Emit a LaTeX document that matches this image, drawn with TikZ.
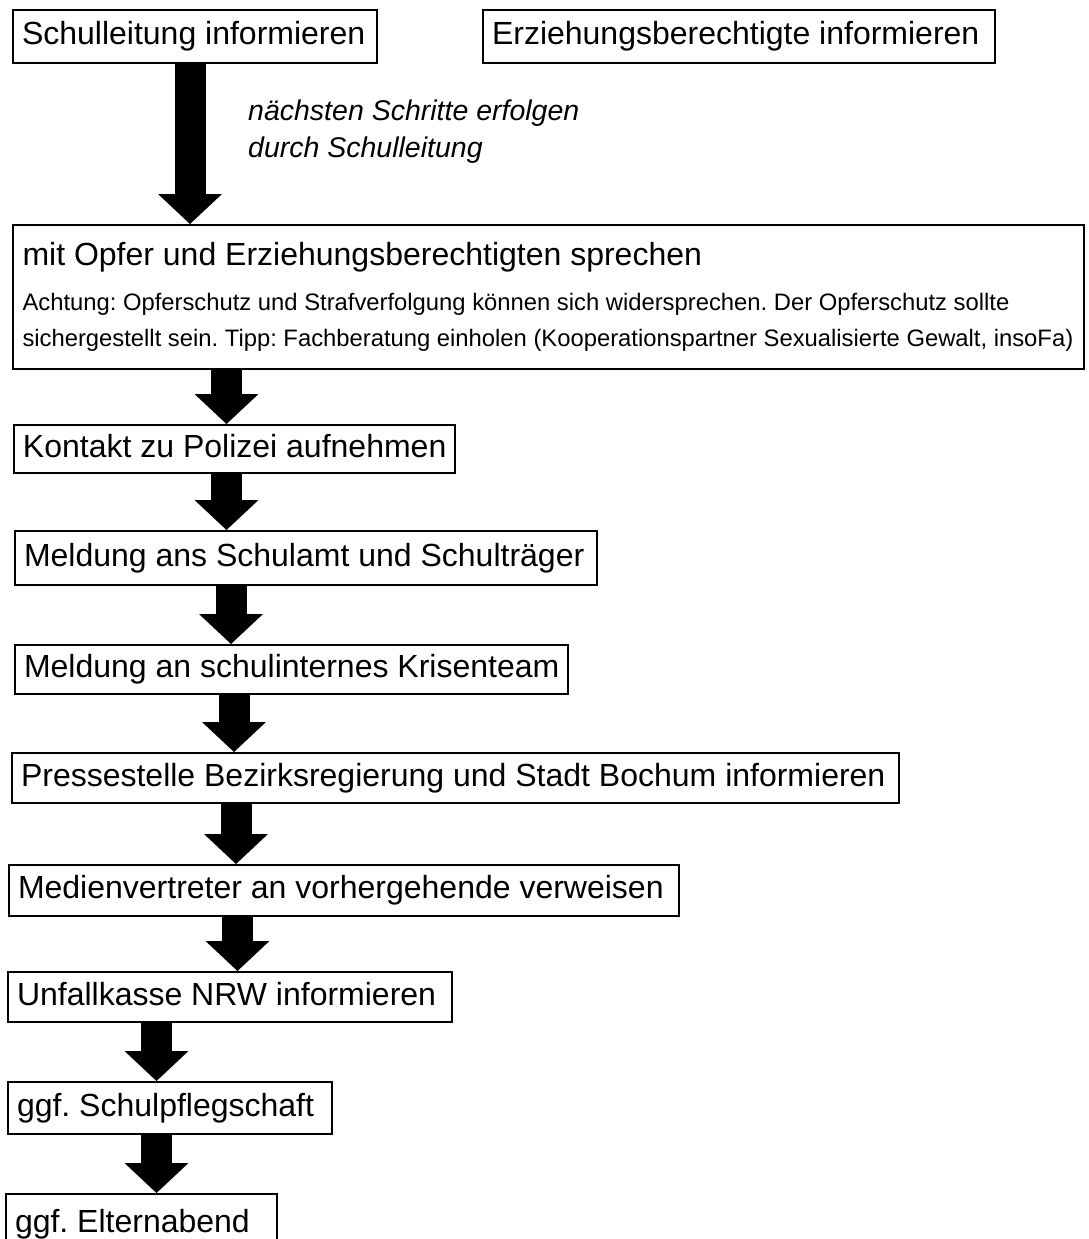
\documentclass[tikz,border=0pt]{standalone}
\usepackage{fontspec}
\setmainfont{Liberation Sans}
\usetikzlibrary{arrows.meta}
\frenchspacing
\hyphenpenalty=10000

\begin{document}
\begin{tikzpicture}[x=1pt,y=-1pt,
                kasten/.style={draw,rectangle,line width=2pt,anchor=north west,
                    inner xsep=9pt,inner ysep=0pt,minimum height=#1,align=flush left,
                    font=\fontsize{32}{38}\selectfont},
                kasten/.default=50pt,
                zeile/.style={kasten=#1,text height=23pt,text depth=7pt},
                zeile/.default=50pt,
                pfeil/.style={line width=31pt,-{Triangle[length=30pt,width=64pt,line width=0pt]}}]
                \useasboundingbox (0,0) rectangle (1089,1239);

                \node[zeile=53pt,text width=346pt] (schulleitung) at (12,9) {Schulleitung informieren};
                \node[zeile=53pt,text width=494pt] (eltern1) at (482,9) {Erziehungsberechtigte informieren};
                \node[anchor=west,inner sep=0pt,align=left,
                    font=\fontsize{28.5}{37}\selectfont\itshape] (hinweis) at (248,131.5)
                    {nächsten Schritte erfolgen\\durch Schulleitung};
                \node[kasten=144pt,text width=1052pt,inner xsep=9.5pt,
                    font=\fontsize{23.8}{36}\selectfont] (opfer) at (12,224)
                    {{\fontsize{32}{38}\selectfont mit Opfer und Erziehungsberechtigten sprechen}\\[9pt]
                     Achtung: Opferschutz und Strafverfolgung können sich widersprechen. Der Opferschutz sollte\\
                     sichergestellt sein. Tipp: Fachberatung einholen (Kooperationspartner Sexualisierte Gewalt, insoFa)};
                \node[zeile=48pt] (polizei) at (13,424) {Kontakt zu Polizei aufnehmen};
                \node[zeile=54pt,text width=564pt] (schulamt) at (14,530) {Meldung ans Schulamt und Schulträger};
                \node[zeile=49pt] (krisenteam) at (14,644) {Meldung an schulinternes Krisenteam};
                \node[zeile=50pt,text width=869pt] (presse) at (11,752) {Pressestelle Bezirksregierung und Stadt Bochum informieren};
                \node[zeile=51pt,text width=652pt] (medien) at (8,864) {Medienvertreter an vorhergehende verweisen};
                \node[zeile=50pt,text width=426pt] (unfallkasse) at (7,971) {Unfallkasse NRW informieren};
                \node[zeile=52pt,text width=306pt] (pflegschaft) at (7,1081) {ggf. Schulpflegschaft};
                \node[zeile=60pt,text width=253pt] (elternabend) at (5,1193) {ggf. Elternabend};

                \draw[pfeil] (schulleitung.south -| 190,0) -- (opfer.north -| 190,0);
                \draw[pfeil] (opfer.south -| 226.5,0) -- (polizei.north -| 226.5,0);
                \draw[pfeil] (polizei.south -| 226.5,0) -- (schulamt.north -| 226.5,0);
                \draw[pfeil] (schulamt.south -| 231,0) -- (krisenteam.north -| 231,0);
                \draw[pfeil] (krisenteam.south -| 234,0) -- (presse.north -| 234,0);
                \draw[pfeil] (presse.south -| 236,0) -- (medien.north -| 236,0);
                \draw[pfeil] (medien.south -| 237.5,0) -- (unfallkasse.north -| 237.5,0);
                \draw[pfeil] (unfallkasse.south -| 156.5,0) -- (pflegschaft.north -| 156.5,0);
                \draw[pfeil] (pflegschaft.south -| 156.5,0) -- (elternabend.north -| 156.5,0);
\end{tikzpicture}
\end{document}
